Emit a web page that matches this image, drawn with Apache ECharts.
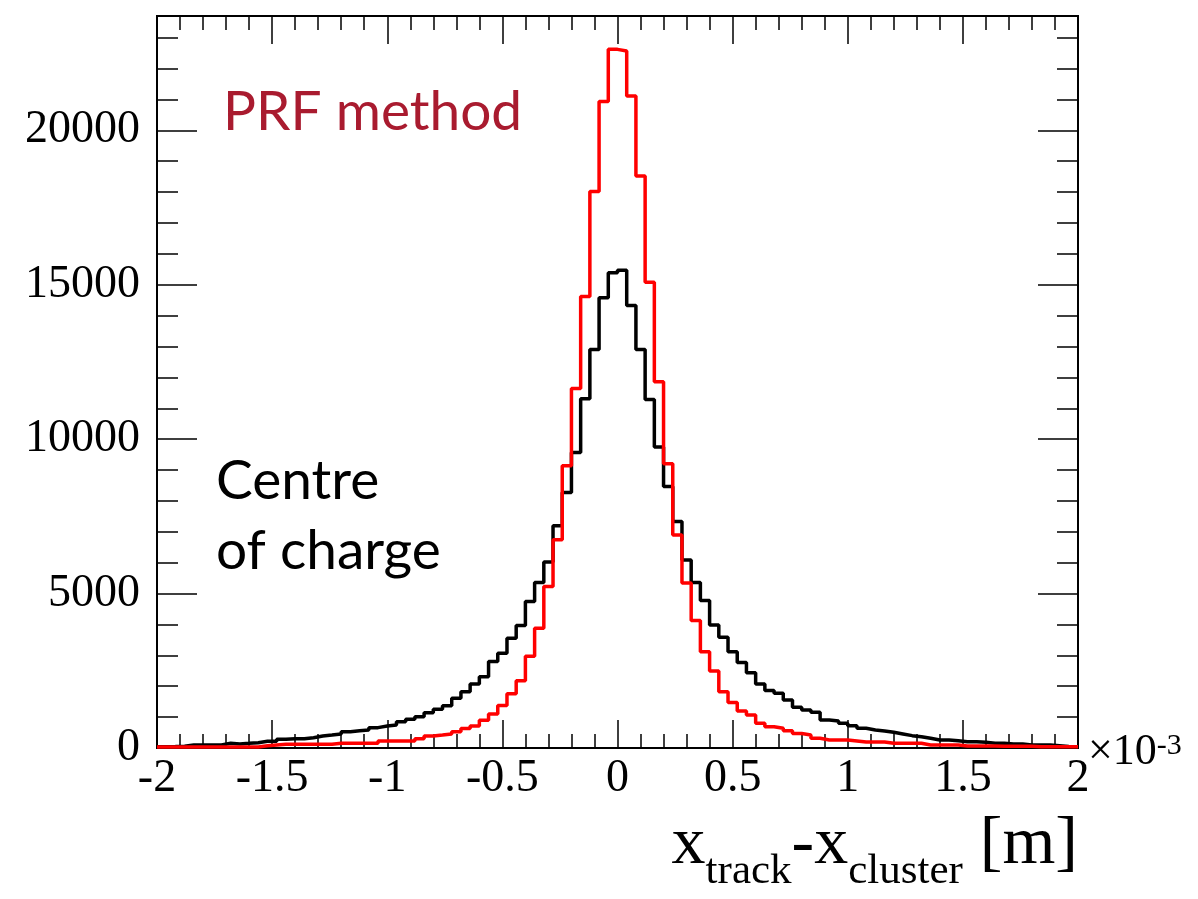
<!DOCTYPE html>
<html><head><meta charset="utf-8">
<script src="https://cdn.jsdelivr.net/npm/echarts@6/dist/echarts.min.js"></script>
<style>html,body{margin:0;padding:0;background:#fff}#c{width:1198px;height:899px}</style>
</head><body><div id="c"></div>
<script>
// ---- data ----
const binLow = -2;          // lower edge of the first bin (x10^-3 m)
const binWidth = 0.04;      // bin width (x10^-3 m)
const xTickLabels = ['-2','-1.5','-1','-0.5','0','0.5','1','1.5','2'];
const yTickLabels = ['0','5000','10000','15000','20000'];
const centreOfCharge = [
  40,45,60,97,97,97,100,151,130,151,
  173,216,216,281,302,302,335,389,421,454,
  529,562,580,659,713,745,853,929,1015,1145,
  1253,1370,1610,1825,2075,2310,2800,3070,3555,3965,
  4740,5360,6020,7195,8275,9570,11310,12900,14575,15390,
  15470,14325,12900,11280,9745,8470,7335,6090,5360,4775,
  3985,3585,3120,2765,2440,2075,1860,1770,1555,1320,
  1232,1156,907,875,800,724,637,583,551,508,
  454,400,367,313,259,259,238,205,205,184,
  151,151,130,130,97,97,97,76,50,40
];
const prfMethod = [
  35,35,35,35,35,35,35,35,35,35,
  35,76,100,119,119,119,119,119,119,151,
  151,151,151,151,227,227,227,227,302,389,
  420,454,529,630,710,900,1100,1380,1760,2180,
  2970,3880,5230,6740,9140,11640,14620,18020,20930,22620,
  22570,21110,18520,15080,11860,9200,6900,5340,4130,3120,
  2495,1825,1470,1200,1070,800,690,640,560,470,
  421,313,259,259,259,227,194,194,194,151,
  151,151,151,97,97,97,97,65,65,65,
  65,55,55,55,55,40,40,40,40,40
];

function histPoints(vals){
  const pts = vals.map((v,i)=>[+(binLow + i*binWidth).toFixed(4), v]);
  pts.push([+(binLow + vals.length*binWidth).toFixed(4), vals[vals.length-1]]);
  return pts;
}

const SERIF = '"Liberation Serif","Times New Roman",serif';
const SANS = 'Lato, "Noto Sans", sans-serif';
const xMin = +xTickLabels[0], xMax = +xTickLabels[xTickLabels.length-1];
const yMax = 23700;

const chart = echarts.init(document.getElementById('c'), null, {renderer:'canvas'});

const tickStyle = {color:'#000', width:1.5};
function xAx(pos, labels){
  return {
    type:'value', min:xMin, max:xMax, interval:0.5, position:pos,
    axisLine:{show:true, onZero:false, lineStyle:{color:'#000', width:2}},
    axisTick:{show:true, inside:true, length:28, lineStyle:tickStyle},
    minorTick:{show:true, splitNumber:5, length:14, lineStyle:tickStyle},
    splitLine:{show:false}, minorSplitLine:{show:false},
    axisLabel:{show:labels, fontFamily:SERIF, fontSize:46, color:'#000', margin:8,
      formatter:(v)=>{ const s = xTickLabels.find(t=>Math.abs(+t - v)<1e-9); return s===undefined?'':s; }}
  };
}
function yAx(pos, interval, len, labels){
  return {
    type:'value', min:0, max:yMax, interval:interval, position:pos,
    axisLine:{show:true, onZero:false, lineStyle:{color:'#000', width:2}},
    axisTick:{show:true, inside:true, length:len, lineStyle:tickStyle},
    splitLine:{show:false},
    axisLabel:{show:labels, fontFamily:SERIF, fontSize:46, color:'#000', margin:17,
      showMaxLabel:false,
      formatter:(v)=>{ const s = yTickLabels.find(t=>+t===v); return s===undefined?'':s; }}
  };
}

// text measurement for the composite axis title
const mctx = document.createElement('canvas').getContext('2d');
function tw(t, size, fam){ mctx.font = size+'px '+fam; return mctx.measureText(t).width; }

const S = 68, s = 43, base = 868, subBase = 886;
const titleParts = [
  {t:'x', size:S, b:base},
  {t:'track', size:s, b:subBase},
  {t:'-', size:S, b:base},
  {t:'x', size:S, b:base},
  {t:'cluster', size:s, b:subBase},
  {t:' [m]', size:S, b:base}
];
const widths = titleParts.map(p=>tw(p.t, p.size, SERIF));
let xpos = 1078 - widths.reduce((a,b)=>a+b,0);
const graphics = [];
function addText(t, x, baseline, size, fam, fill){
  graphics.push({type:'text', silent:true, style:{
    text:t, x:x, y:baseline - 0.34*size, font: size+'px '+fam, fill:fill,
    align:'left', verticalAlign:'middle', textAlign:'left', textVerticalAlign:'middle'}});
}
titleParts.forEach((p,i)=>{ addText(p.t, xpos, p.b, p.size, SERIF, '#000'); xpos += widths[i]; });

// x10^-3 multiplier
const mulW = tw('\u00d710', 44, SERIF);
addText('\u00d710', 1088, 767, 44, SERIF, '#000');
addText('-3', 1088 + mulW, 756, 30, SERIF, '#000');

// annotations
function addSans(t, x, baseline, size, fill){
  graphics.push({type:'text', silent:true, style:{
    text:t, x:x, y:baseline - 0.38*size, font: size+'px '+SANS, fill:fill,
    align:'left', verticalAlign:'middle', textAlign:'left', textVerticalAlign:'middle'}});
}
addSans('PRF method', 223, 133, 55, '#a91b2f');
addSans('Centre', 216, 502, 55, '#000');
addSans('of charge', 216, 572, 55, '#000');

chart.setOption({
  animation:false,
  backgroundColor:'#fff',
  grid:{left:157, right:120, top:16, bottom:151, show:true, borderColor:'#000', borderWidth:2, backgroundColor:'transparent'},
  xAxis:[xAx('bottom', true), xAx('top', false)],
  yAxis:[yAx('left',5000,40,true), yAx('left',1000,21,false), yAx('right',5000,40,false), yAx('right',1000,21,false)],
  series:[
    {name:'Centre of charge', type:'line', step:'end', symbol:'none', xAxisIndex:0, yAxisIndex:0,
     lineStyle:{color:'#000', width:3.5}, data:histPoints(centreOfCharge), z:3},
    {name:'PRF method', type:'line', step:'end', symbol:'none', xAxisIndex:0, yAxisIndex:0,
     lineStyle:{color:'#ff0000', width:3.5}, data:histPoints(prfMethod), z:4}
  ],
  graphic:graphics
});
</script></body></html>
